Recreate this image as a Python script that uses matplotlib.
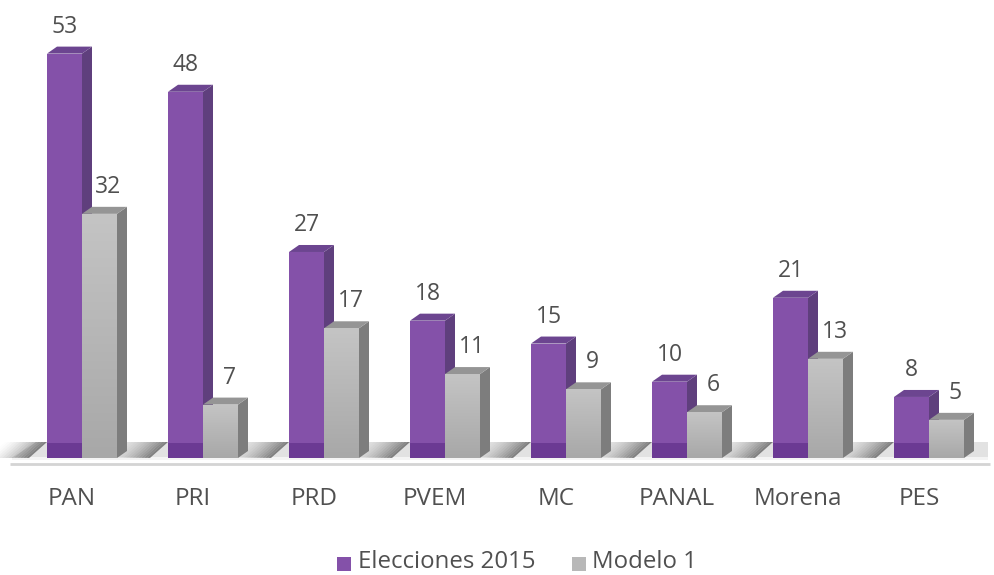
import matplotlib
matplotlib.use("Agg")
import matplotlib.pyplot as plt
from matplotlib.patches import Polygon, Rectangle
from matplotlib.colors import LinearSegmentedColormap
import numpy as np

categories = ["PAN", "PRI", "PRD", "PVEM", "MC", "PANAL", "Morena", "PES"]
elecciones_2015 = [53, 48, 27, 18, 15, 10, 21, 8]
modelo_1 = [32, 7, 17, 11, 9, 6, 13, 5]
series_names = ["Elecciones 2015", "Modelo 1"]

W, H = 994, 575
fig = plt.figure(figsize=(W / 100, H / 100), dpi=100)
ax = fig.add_axes([0, 0, 1, 1])
ax.axis("off")

# pixel geometry
px_per_cat = 121.0
x0_px = 82.0           # group centre of first category
base_px = 458.0        # y of value 0 (from top)
px_per_val = 7.63
ax.set_xlim(-x0_px / px_per_cat, (W - x0_px) / px_per_cat)
ax.set_ylim(-(H - base_px) / px_per_val, base_px / px_per_val)
XL, XR = ax.get_xlim()

w = 35 / px_per_cat
dx = 10 / px_per_cat
dy = 7 / px_per_val
fx = 1 / px_per_cat      # one pixel in x
fy = 1 / px_per_val      # one pixel in y

font = "Open Sans"
txt_col = "#505050"

# floor
floor_back = 16 * fy
xr_floor = XR - 6 * fx
ax.add_patch(Polygon([(XL + 12 * fx, 0), (xr_floor, 0), (xr_floor, floor_back),
                      (XL + 36 * fx, floor_back)],
                     closed=True, facecolor="#e2e2e2", edgecolor="none", zorder=1))
ax.add_patch(Rectangle((XL + 12 * fx, -2 * fy), xr_floor - XL - 12 * fx, 3 * fy,
                       facecolor="#f4f4f4", edgecolor="none", zorder=1.1))
# floor shadows left of each purple bar
for i in range(len(categories)):
    left = i - w
    n = 14
    for k in range(n):
        a = 0.55 * (1 - k / n) ** 1.6
        xa = left - (k + 1) * 3 * fx
        xb = left - k * 3 * fx
        ax.add_patch(Polygon([(xa - 18 * fx, 0), (xb - 18 * fx, 0), (xb, floor_back), (xa, floor_back)],
                             closed=True, facecolor="#303030", alpha=a, edgecolor="none", zorder=1.2))
# baseline line
ax.plot([XL + 10 * fx, XR - 4 * fx], [-6 * fy, -6 * fy],
        color="#d4d4d4", lw=2, zorder=1, solid_capstyle="butt")

gray_grad = LinearSegmentedColormap.from_list("g", ["#a8a8a8", "#c4c4c4"])


def bar3d(xl, v, front, side, top, grad=None, z=3):
    xr = xl + w
    ax.add_patch(Polygon([(xr, 0), (xr + dx, dy), (xr + dx, v + dy), (xr, v)],
                         closed=True, facecolor=side, edgecolor="none", zorder=z))
    ax.add_patch(Polygon([(xl, v), (xr, v), (xr + dx, v + dy), (xl + dx, v + dy)],
                         closed=True, facecolor=top, edgecolor="none", zorder=z))
    rect = Rectangle((xl, 0), w, v, facecolor=front, edgecolor="none", zorder=z)
    ax.add_patch(rect)
    if grad is not None:
        g = np.linspace(0, 1, 64).reshape(-1, 1)
        im = ax.imshow(g, extent=(xl, xr, 0, v), origin="lower", aspect="auto",
                       cmap=grad, zorder=z + 0.1, interpolation="bicubic")
        im.set_clip_path(rect)


for i, (a, b) in enumerate(zip(elecciones_2015, modelo_1)):
    bar3d(i - w, a, "#8451a9", "#5f3f7d", "#6c4590", z=3)
    # darker foot of purple bar (floor region)
    ax.add_patch(Rectangle((i - w, 0), w, floor_back - fy, facecolor="#6b3a93",
                           edgecolor="none", zorder=3.05))
    bar3d(i, b, "#b8b8b8", "#7d7d7d", "#959595", grad=gray_grad, z=4)
    ax.annotate(str(a), (i - w / 2, a), xytext=(0, 27), textcoords="offset pixels",
                ha="center", va="center", fontsize=16.5, color=txt_col, family=font, zorder=6)
    ax.annotate(str(b), (i + w / 2, b), xytext=(9, 27), textcoords="offset pixels",
                ha="center", va="center", fontsize=16.5, color=txt_col, family=font, zorder=6)
    ax.text(i - 10 * fx, -41 * fy, categories[i], ha="center", va="center",
            fontsize=17.5, color=txt_col, family=font)

# legend
def fx_fig(px):
    return px / W


def fy_fig(py):
    return 1 - py / H


fig.patches.append(Rectangle((fx_fig(337), fy_fig(571)), 14 / W, 14 / H,
                             transform=fig.transFigure, facecolor="#8451a9", edgecolor="none"))
fig.text(fx_fig(358), fy_fig(562), series_names[0], ha="left", va="center",
         fontsize=17.3, color=txt_col, family=font)
fig.patches.append(Rectangle((fx_fig(572), fy_fig(571)), 14 / W, 14 / H,
                             transform=fig.transFigure, facecolor="#b8b8b8", edgecolor="none"))
fig.text(fx_fig(592), fy_fig(562), series_names[1], ha="left", va="center",
         fontsize=17.3, color=txt_col, family=font)

fig.savefig("out.png", dpi=100)
